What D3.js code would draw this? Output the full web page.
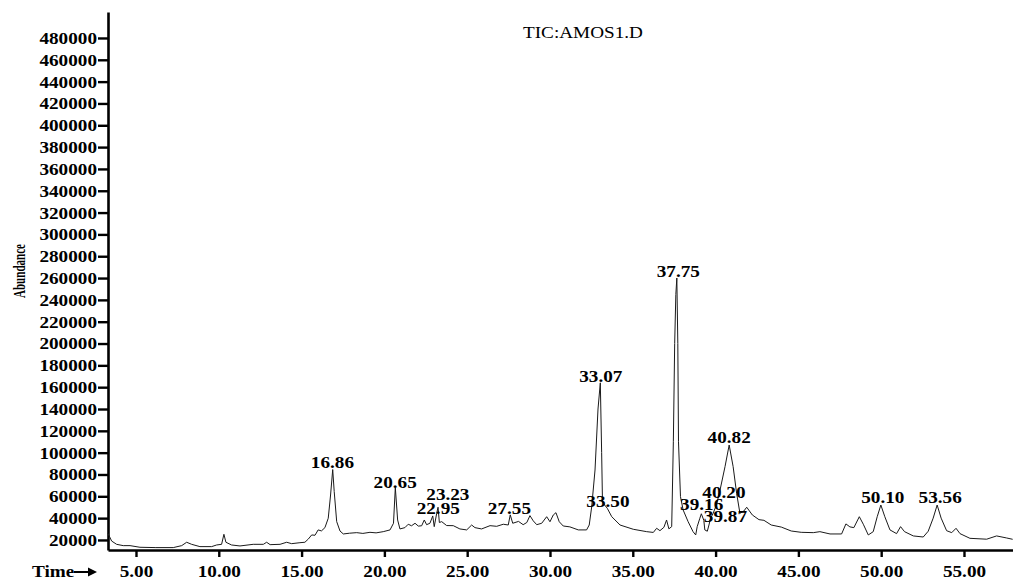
<!doctype html>
<html>
<head>
<meta charset="utf-8" />
<title>TIC:AMOS1.D</title>
<style>
	body { margin: 0; background: #fff; }
	svg { display: block; font-family: "Liberation Serif", "DejaVu Serif", serif; }
	.axis path, .axis line { stroke: #000; }
	.axis text { font-size: 17px; font-weight: bold; fill: #000; font-family: "Liberation Serif", serif; }
	.trace { fill: none; stroke: #1a1a1a; stroke-width: 1; stroke-linejoin: round; }
	.peak { font-size: 17px; font-weight: bold; text-anchor: middle; fill: #000; }
</style>
</head>
<body>
<svg id="chart" width="1013" height="580"></svg>
<script src="https://cdn.jsdelivr.net/npm/d3@7"></script>
<script>
// retention time (min) and abundance
const times = [
	3.31, 3.53, 3.83, 4.23, 4.64, 5.24, 6.2, 7.25, 7.76, 8.06, 8.36, 8.86, 9.57, 9.87, 10.17, 10.31, 10.43,
	10.77, 11.28, 12.08, 12.69, 12.89, 13.1, 13.7, 14.1, 14.4, 14.9, 15.2, 15.41, 15.61, 15.81, 16.0, 16.2,
	16.41, 16.61, 16.75, 16.88, 16.97, 17.12, 17.32, 17.52, 17.9, 18.33, 18.7, 19.13, 19.5, 19.93, 20.34,
	20.55, 20.66, 20.8, 20.94, 21.24, 21.44, 21.64, 21.85, 22.05, 22.25, 22.41, 22.55, 22.75, 22.92, 23.01,
	23.16, 23.24, 23.32, 23.46, 23.76, 24.16, 24.56, 24.97, 25.27, 25.47, 25.87, 26.38, 26.78, 27.18, 27.48,
	27.6, 27.75, 28.1, 28.38, 28.6, 28.79, 28.99, 29.2, 29.5, 29.8, 30.0, 30.2, 30.36, 30.56, 30.8, 31.2,
	31.71, 32.21, 32.37, 32.52, 32.72, 32.9, 33.04, 33.12, 33.17, 33.3, 33.46, 33.73, 34.23, 35.03, 35.84,
	36.24, 36.44, 36.64, 36.88, 37.04, 37.18, 37.35, 37.45, 37.53, 37.6, 37.66, 37.72, 37.76, 37.88, 38.04,
	38.34, 38.64, 38.8, 38.89, 39.05, 39.14, 39.29, 39.35, 39.5, 39.6, 39.7, 39.84, 40.05, 40.27, 40.57,
	40.82, 41.06, 41.27, 41.47, 41.7, 41.88, 42.22, 42.62, 42.92, 43.36, 43.97, 44.57, 45.17, 45.9, 46.3,
	46.91, 47.61, 47.87, 48.11, 48.35, 48.68, 48.92, 49.22, 49.52, 49.76, 49.98, 50.22, 50.53, 50.93, 51.17,
	51.41, 51.94, 52.54, 52.84, 53.14, 53.38, 53.62, 53.95, 54.26, 54.52, 54.76, 55.36, 56.37, 56.97, 57.58, 57.94
];
const abundance = [
	26000, 19000, 16000, 14800, 14800, 13300, 13000, 13000, 14800, 17900, 16000, 13900, 13900, 15400, 16000, 25200, 17900,
	15400, 14500, 16000, 16000, 17900, 15700, 16000, 17900, 16600, 17500, 17900, 20900, 24600, 24300, 29200, 28300,
	31300, 39900, 61200, 84500, 64300, 36800, 28200, 25500, 26200, 26700, 26000, 27000, 26500, 27600, 29200,
	35300, 68000, 38300, 30100, 31300, 34400, 33000, 35300, 32700, 33000, 38300, 34000, 35300, 42000, 32200,
	44500, 50000, 36000, 36800, 33200, 33100, 30100, 29200, 33700, 31300, 30100, 33100, 32500, 34400, 33700,
	43000, 35300, 37000, 34000, 36000, 42300, 37500, 34000, 35300, 41300, 36700, 42900, 45000, 36700, 32800, 32000,
	29200, 29200, 33700, 50500, 84100, 140000, 164000, 100000, 55000, 52000, 49000, 41300, 33700, 29800, 27600,
	26900, 30700, 28500, 31600, 38300, 30200, 32200, 110000, 200000, 245000, 260000, 200000, 110000, 59700, 47500,
	36800, 27600, 24600, 32200, 39900, 44000, 38000, 29200, 28000, 33700, 40000, 44000, 52000, 65800, 87200,
	107000, 87200, 62800, 44500, 46400, 50000, 42900, 38600, 38000, 33700, 31800, 28200, 27000, 26700, 27600,
	25500, 25500, 34700, 32000, 31300, 41300, 34400, 24600, 27600, 41300, 52000, 41300, 29200, 25800, 32200,
	27600, 23700, 22700, 28000, 40000, 52000, 40000, 28500, 26700, 30700, 25800, 21500, 20700, 23700, 21800, 20600
];

// peak annotations: label text and the abundance its baseline sits on
const peakLabels = ['16.86', '20.65', '23.23', '22.95', '27.55', '33.07', '37.75', '33.50', '39.16', '40.20', '39.87', '40.82', '50.10', '53.56'];
const peakLevels = [86000, 67600, 56600, 43800, 43800, 164800, 261000, 50200, 47500, 58500, 36500, 108900, 53900, 53900];

const xTicks = [5, 10, 15, 20, 25, 30, 35, 40, 45, 50, 55];
const yTicks = [20000, 40000, 60000, 80000, 100000, 120000, 140000, 160000, 180000, 200000, 220000, 240000,
	260000, 280000, 300000, 320000, 340000, 360000, 380000, 400000, 420000, 440000, 460000, 480000];

const title = 'TIC:AMOS1.D';

const sx = 1.13; // glyphs in the original are slightly wider than tall

const svg = d3.select('#chart');
const x = d3.scaleLinear().domain([3.31, 57.96]).range([108, 1013]);
const y = d3.scaleLinear().domain([10800, 503800]).range([550, 12]);

const gy = svg.append('g').attr('class', 'axis').attr('transform', 'translate(108,0)')
	.call(d3.axisLeft(y).tickValues(yTicks).tickFormat(d3.format('d')).tickSize(10).tickPadding(1).tickSizeOuter(0));
gy.select('.domain').attr('stroke-width', 2.6);
gy.selectAll('.tick line').attr('stroke-width', 2.4);
gy.selectAll('.tick text').attr('x', -11 / sx).attr('transform', `scale(${sx},1)`);

const gx = svg.append('g').attr('class', 'axis').attr('transform', 'translate(0,550)')
	.call(d3.axisBottom(x).tickValues(xTicks).tickFormat(d3.format('.2f')).tickSize(7).tickPadding(8).tickSizeOuter(0));
gx.select('.domain').attr('stroke-width', 2.6);
gx.selectAll('.tick line').attr('stroke-width', 2.4);
gx.selectAll('.tick text').attr('transform', `scale(${sx},1)`);

const points = d3.zip(times, abundance);
svg.append('path')
	.datum(points)
	.attr('class', 'trace')
	.attr('d', d3.line().x(d => x(d[0])).y(d => y(d[1])));

// crowded labels are pushed right a little, like in the original
const nudge = { '23.23': 10, '22.95': 5, '40.20': 5, '39.87': 12 };
svg.append('g').selectAll('text')
	.data(peakLabels)
	.join('text')
	.attr('class', 'peak')
	.attr('transform', (d, i) => `translate(${x(+d) + (nudge[d] || 0)},${y(peakLevels[i])}) scale(${sx},1)`)
	.text(d => d);

svg.append('text')
	.attr('transform', `translate(523,38) scale(${sx},1)`)
	.attr('font-size', 17)
	.text(title);

svg.append('text')
	.attr('transform', 'translate(25,271) rotate(-90)')
	.attr('text-anchor', 'middle')
	.attr('font-size', 17)
	.attr('font-weight', 'bold')
	.attr('textLength', 54)
	.attr('lengthAdjust', 'spacingAndGlyphs')
	.text('Abundance');

svg.append('text')
	.attr('transform', `translate(32,577) scale(${sx},1)`)
	.attr('font-size', 17)
	.attr('font-weight', 'bold')
	.text('Time');
svg.append('line')
	.attr('x1', 74).attr('y1', 572).attr('x2', 90).attr('y2', 572)
	.attr('stroke', '#000').attr('stroke-width', 2);
svg.append('path')
	.attr('d', 'M88,567.5L97,572L88,576.5Z')
	.attr('fill', '#000');
</script>
</body>
</html>
